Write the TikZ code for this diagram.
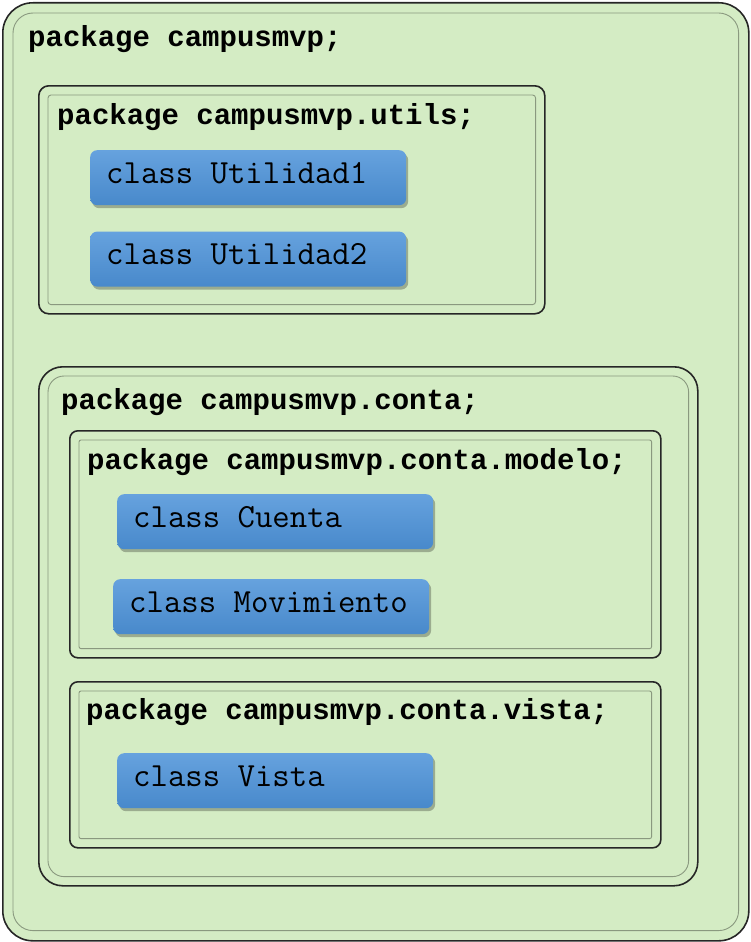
\documentclass[tikz,border=0pt]{standalone}
\usepackage{fontspec}
\newfontfamily\pkgfont{Liberation Mono}
\usetikzlibrary{positioning,shadows}

\definecolor{pkggreen}{RGB}{212,236,196}
\definecolor{clstop}{RGB}{102,162,222}
\definecolor{clsbot}{RGB}{72,137,203}

\begin{document}
\begin{tikzpicture}[
    x=1pt, y=-1pt,
    pkg/.style={draw=black!85, line width=1.6pt, fill=pkggreen, anchor=north west, inner sep=0pt},
    pkgin/.style={draw=black!35!pkggreen, line width=0.9pt},
    title/.style={anchor=base west, inner sep=0pt, font=\fontsize{29}{29}\selectfont\pkgfont\bfseries},
    cls/.style={anchor=north west, rounded corners=7pt, top color=clstop, bottom color=clsbot,
        minimum width=316pt, minimum height=55pt, text width=284pt, align=flush left,
        inner xsep=16pt, text height=18pt, text depth=7pt,
        font=\fontsize{33.8}{33.8}\selectfont\ttfamily,
        execute at begin node={\spaceskip=0pt\xspaceskip=0pt},
        drop shadow={shadow xshift=2pt, shadow yshift=-3pt, fill=black!45!pkggreen, opacity=0.6}},
]
    \useasboundingbox (0,0) rectangle (750,942);

    \node[pkg, rounded corners=30pt, minimum width=746pt, minimum height=938pt] (main) at (2,2) {};
    \draw[pkgin, rounded corners=20pt] ([shift={(11,11)}]main.north west) rectangle ([shift={(-11,-11)}]main.south east);
    \node[title] (mainT) at (28,47) {package campusmvp;};

    \node[pkg, rounded corners=10pt, minimum width=506pt, minimum height=228pt] (utils) at (38,85) {};
    \draw[pkgin, rounded corners=3pt] ([shift={(10,10)}]utils.north west) rectangle ([shift={(-10,-10)}]utils.south east);
    \node[title] (utilsT) at (57,124) {package campusmvp.utils;};
    \node[cls] (util1) at (90,150) {class Utilidad1};
    \node[cls, below=26pt of util1.south west, anchor=north west] (util2) {class Utilidad2};

    \node[pkg, rounded corners=24pt, minimum width=659pt, minimum height=519pt] (conta) at (38,366) {};
    \draw[pkgin, rounded corners=16pt] ([shift={(10,10)}]conta.north west) rectangle ([shift={(-10,-10)}]conta.south east);
    \node[title] (contaT) at (61,409) {package campusmvp.conta;};

    \node[pkg, rounded corners=8pt, minimum width=591pt, minimum height=227pt] (modelo) at (69,430) {};
    \draw[pkgin, rounded corners=2pt] ([shift={(10,10)}]modelo.north west) rectangle ([shift={(-10,-10)}]modelo.south east);
    \node[title] (modeloT) at (87,469) {package campusmvp.conta.modelo;};
    \node[cls] (cuenta) at (117,494) {class Cuenta};
    \node[cls] (movim) at (113,579) {class Movimiento};

    \node[pkg, rounded corners=8pt, minimum width=591pt, minimum height=166pt] (vista) at (69,681) {};
    \draw[pkgin, rounded corners=2pt] ([shift={(10,10)}]vista.north west) rectangle ([shift={(-10,-10)}]vista.south east);
    \node[title] (vistaT) at (86,719) {package campusmvp.conta.vista;};
    \node[cls] (vistaC) at (117,753) {class Vista};
\end{tikzpicture}
\end{document}
